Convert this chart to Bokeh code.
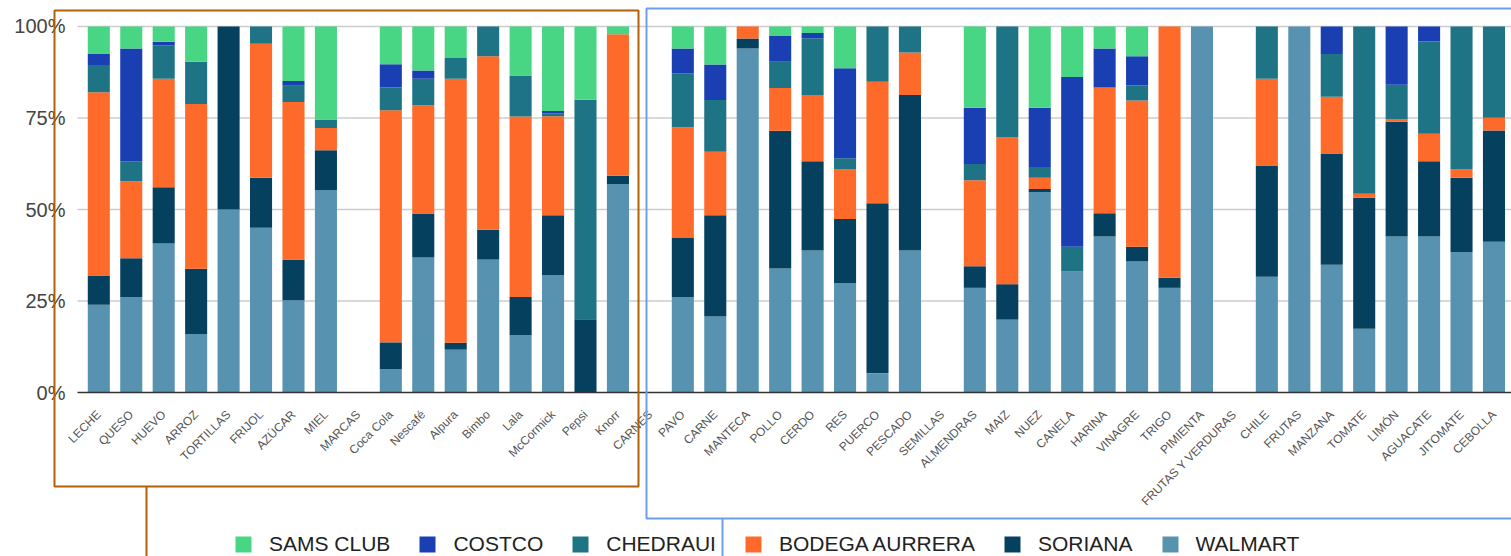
import math
from bokeh.plotting import figure
from bokeh.models import (Range1d, FixedTicker, PrintfTickFormatter, CustomJSTickFormatter,
                          Legend, LegendItem, BoxAnnotation, ColumnDataSource)
from bokeh.embed import file_html
from bokeh.resources import INLINE

categories = ["LECHE", "QUESO", "HUEVO", "ARROZ", "TORTILLAS", "FRIJOL", "AZÚCAR", "MIEL",
              "MARCAS", "Coca Cola", "Nescafé", "Alpura", "Bimbo", "Lala", "McCormick", "Pepsi", "Knorr",
              "CARNES", "PAVO", "CARNE", "MANTECA", "POLLO", "CERDO", "RES", "PUERCO", "PESCADO",
              "SEMILLAS", "ALMENDRAS", "MAIZ", "NUEZ", "CANELA", "HARINA", "VINAGRE", "TRIGO", "PIMIENTA",
              "FRUTAS Y VERDURAS", "CHILE", "FRUTAS", "MANZANA", "TOMATE", "LIMÓN", "AGUACATE", "JITOMATE", "CEBOLLA"]

walmart = [24, 26, 40.7, 16, 50, 45, 25.2, 55.3,
           0, 6.4, 36.9, 11.7, 36.3, 15.6, 32.1, 0, 57,
           0, 26.1, 20.8, 94, 33.9, 38.8, 29.9, 5.3, 38.8,
           0, 28.6, 19.9, 54.8, 33.1, 42.6, 35.9, 28.6, 100,
           0, 31.6, 100, 34.9, 17.4, 42.6, 42.6, 38.4, 41.2]
soriana = [8, 10.7, 15.4, 17.8, 50, 13.7, 11.1, 10.9,
           0, 7.3, 12, 1.9, 8.2, 10.5, 16.3, 20, 2.2,
           0, 16.1, 27.6, 2.7, 37.6, 24.4, 17.5, 46.4, 42.5,
           0, 5.9, 9.7, 0.8, 0, 6.4, 3.9, 2.8, 0,
           0, 30.4, 0, 30.4, 35.8, 31.4, 20.6, 20.3, 30.4]
bodega = [50, 21, 29.6, 45, 0, 36.6, 43.1, 6.1,
          0, 63.4, 29.6, 72.1, 47.4, 49.3, 27.1, 0, 38.7,
          0, 30.3, 17.4, 3.3, 11.7, 18.1, 13.5, 33.2, 11.6,
          0, 23.5, 40.1, 3.1, 0, 34.3, 40, 68.6, 0,
          0, 23.7, 0, 15.5, 1.1, 0.6, 7.5, 2.2, 3.5]
chedraui = [7.5, 5.5, 9.2, 11.6, 0, 4.7, 4.4, 2.3,
            0, 6.2, 7.2, 5.7, 8.1, 11.2, 0.8, 60, 0,
            0, 14.7, 14.1, 0, 7.2, 15.5, 3.1, 15.1, 7.1,
            0, 4.4, 30.3, 2.9, 6.7, 0, 4.1, 0, 0,
            0, 14.3, 0, 11.7, 45.7, 9.5, 25.2, 39.1, 24.9]
costco = [3, 30.8, 0.9, 0, 0, 0, 1.3, 0,
          0, 6.4, 2.3, 0, 0, 0, 0.6, 0, 0,
          0, 6.8, 9.7, 0, 7.0, 1.4, 24.6, 0, 0,
          0, 15.4, 0, 16.2, 46.4, 10.7, 8, 0, 0,
          0, 0, 0, 7.5, 0, 15.9, 4.1, 0, 0]
sams = [7.5, 6, 4.2, 9.6, 0, 0, 14.9, 25.4,
        0, 10.3, 12, 8.6, 0, 13.4, 23.1, 20, 2.1,
        0, 6, 10.4, 0, 2.6, 1.8, 11.4, 0, 0,
        0, 22.2, 0, 22.2, 13.8, 6, 8.1, 0, 0,
        0, 0, 0, 0, 0, 0, 0, 0, 0]

series_names = ["WALMART", "SORIANA", "BODEGA AURRERA", "CHEDRAUI", "COSTCO", "SAMS CLUB"]
series_colors = ["#5892b1", "#06405f", "#fd6a2a", "#1e7485", "#1a3fb3", "#48d685"]
legend_order = ["SAMS CLUB", "COSTCO", "CHEDRAUI", "BODEGA AURRERA", "SORIANA", "WALMART"]
y_ticks = [0, 25, 50, 75, 100]

xpos = list(range(len(categories)))
source = ColumnDataSource(data={"x": xpos, "cat": categories, "WALMART": walmart,
                                "SORIANA": soriana, "BODEGA AURRERA": bodega,
                                "CHEDRAUI": chedraui, "COSTCO": costco, "SAMS CLUB": sams})

# frame covers the whole canvas so that the annotation boxes can sit outside the bar area
X0, X1 = -3.03, 43.54      # view window (category index units)
Y0, Y1 = -44.8, 107.1      # view window (percent units)
AX_LEFT = -0.656           # where the baseline / gridlines start

p = figure(width=1511, height=556, x_range=Range1d(X0, X1), y_range=Range1d(Y0, Y1),
           output_backend="svg", toolbar_location=None,
           min_border_left=0, min_border_right=0, min_border_top=0, min_border_bottom=0)
p.title.visible = False
p.outline_line_color = None
p.background_fill_color = "white"
p.xgrid.grid_line_color = None
p.ygrid.grid_line_color = None

# horizontal gridlines
p.segment(x0=AX_LEFT, x1=X1, y0=y_ticks[1:], y1=y_ticks[1:], line_color="#cccccc",
          line_width=1.5, level="underlay")

renderers = p.vbar_stack(series_names, x="x", width=0.68, color=series_colors,
                         line_width=0, source=source)

# y axis
p.yaxis.fixed_location = AX_LEFT
p.yaxis.bounds = (0, 100)
p.yaxis.ticker = FixedTicker(ticks=y_ticks)
p.yaxis.formatter = PrintfTickFormatter(format="%d%%")
p.yaxis.axis_line_color = None
p.yaxis.major_tick_line_color = None
p.yaxis.minor_tick_line_color = None
p.yaxis.major_label_text_font = "Liberation Sans"
p.yaxis.major_label_text_font_size = "20px"
p.yaxis.major_label_text_color = "#444444"
p.yaxis.major_label_standoff = 6

# x axis (categories)
p.xaxis.fixed_location = 0
p.xaxis.bounds = (AX_LEFT, X1)
p.xaxis.ticker = FixedTicker(ticks=xpos)
p.xaxis.formatter = CustomJSTickFormatter(args=dict(cats=categories),
                                          code="const c = cats[Math.round(tick)]; return c === undefined ? '' : c;")
p.xaxis.major_label_orientation = math.pi / 4
p.xaxis.major_label_text_font = "Liberation Sans"
p.xaxis.major_label_text_font_size = "12px"
p.xaxis.major_label_text_color = "#555555"
p.xaxis.axis_line_color = "#333333"
p.xaxis.axis_line_width = 1.5
p.xaxis.major_tick_line_color = None
p.xaxis.minor_tick_line_color = None
p.xaxis.major_label_standoff = 14

by_name = dict(zip(series_names, renderers))
legend = Legend(items=[LegendItem(label=n, renderers=[by_name[n]]) for n in legend_order],
                orientation="horizontal", location=(233, 0),
                glyph_width=20, glyph_height=20, label_standoff=16, spacing=27,
                padding=0, margin=0, border_line_color=None, background_fill_alpha=0,
                label_text_font="Liberation Sans", label_text_font_size="21px",
                label_text_color="#222222")
p.add_layout(legend)

def cbox(l, r, t, b, **kw):
    return BoxAnnotation(left=l, right=r, top=t, bottom=b,
                         left_units="canvas", right_units="canvas",
                         top_units="canvas", bottom_units="canvas", **kw)

brown = "#b45f06"
blue = "#6d9eeb"
p.add_layout(cbox(54, 638, 10, 486, fill_alpha=0, line_color=brown, line_alpha=1, line_width=2))
p.add_layout(cbox(145, 147, 486, 560, fill_color=brown, fill_alpha=1, line_alpha=0))
p.add_layout(cbox(646, 1540, 8, 518, fill_alpha=0, line_color=blue, line_alpha=1, line_width=2))
p.add_layout(cbox(721, 723, 518, 560, fill_color=blue, fill_alpha=1, line_alpha=0))

open("out.html", "w").write(file_html(p, INLINE))
